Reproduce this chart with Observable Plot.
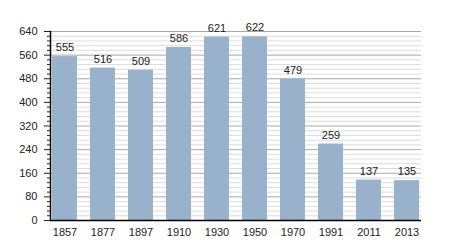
<!DOCTYPE html>
<html>
<head>
<meta charset="utf-8">
<script src="https://cdn.jsdelivr.net/npm/d3@7"></script>
<script src="https://cdn.jsdelivr.net/npm/@observablehq/plot@0.6"></script>
<style>
  html, body { margin: 0; padding: 0; background: #fff; }
</style>
</head>
<body>
<div id="chart"></div>
<script>
const years = ["1857", "1877", "1897", "1910", "1930", "1950", "1970", "1991", "2011", "2013"];
const population = [555, 516, 509, 586, 621, 622, 479, 259, 137, 135];
const majorTicks = [0, 80, 160, 240, 320, 400, 480, 560, 640];
const minorTicks = d3.range(0, 641, 16).filter(v => v % 80 !== 0);

const data = years.map((y, i) => ({year: y, value: population[i]}));

const chart = Plot.plot({
  width: 450,
  height: 250,
  marginLeft: 50,
  marginRight: 29,
  marginTop: 31,
  marginBottom: 30,
  style: {fontFamily: "'Liberation Sans', Arial, sans-serif", fontSize: "11px", color: "#222", background: "#fff"},
  x: {domain: years, paddingInner: 0.33, paddingOuter: 0, label: null},
  y: {domain: [0, 640], label: null},
  marks: [
    Plot.ruleY(minorTicks, {stroke: "#dcdcdc", strokeWidth: 1}),
    Plot.ruleY(majorTicks, {stroke: "#a8a8a8", strokeWidth: 1}),
    Plot.barY(data, {x: "year", y: "value", fill: "#98b2cc"}),
    Plot.text(data, {x: "year", y: "value", text: d => String(d.value), dy: -9, fill: "#222", fontSize: 11}),
    Plot.axisY({ticks: majorTicks, tickSize: 6, tickPadding: 7, stroke: "#222", fill: "#222", label: null}),
    Plot.axisY({ticks: minorTicks, tickSize: 3, text: null, stroke: "#222", label: null}),
    Plot.axisX({tickSize: 0, tickPadding: 8, fill: "#222", label: null}),
    Plot.ruleY([0], {stroke: "#000", strokeWidth: 1.5}),
    Plot.frame({anchor: "left", stroke: "#000", strokeWidth: 1.5})
  ]
});
document.getElementById("chart").appendChild(chart);
</script>
</body>
</html>
